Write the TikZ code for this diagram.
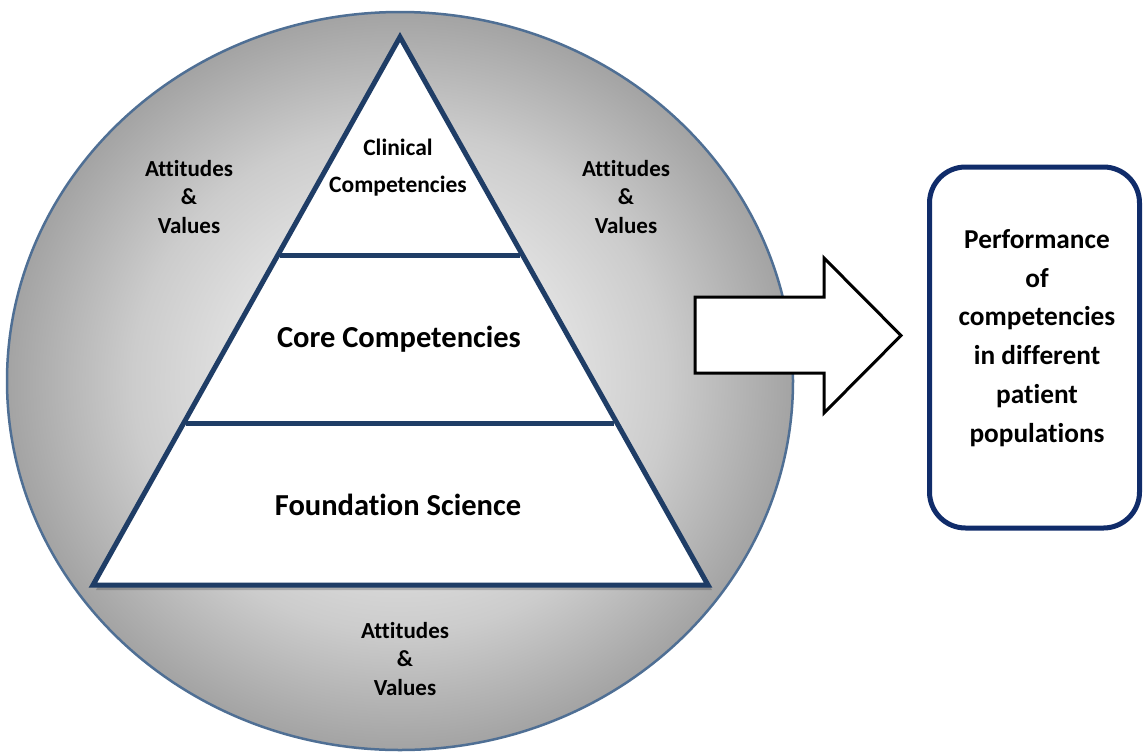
\documentclass[tikz,border=0pt]{standalone}
\usepackage{fontspec}
\setmainfont{Carlito}[Ligatures={NoCommon,NoContextual,NoRare},Contextuals={NoAlternate}]
\definecolor{pyr}{HTML}{1F3D66}
\definecolor{rim}{HTML}{4F6F94}
\definecolor{boxc}{HTML}{102C6A}
\pgfdeclareradialshading{ringshade}{\pgfpoint{0bp}{0bp}}{%
  color(0bp)=(black!4); color(9bp)=(black!10); color(17bp)=(black!20); color(25bp)=(black!36); color(50bp)=(black!36)}
\begin{document}
\begin{tikzpicture}[x=1pt,y=-1pt,
  lbl/.style={align=center, inner sep=0pt, text=black},
  small/.style={lbl, font=\bfseries\fontsize{23}{28.5}\selectfont},
  clin/.style={lbl, font=\bfseries\fontsize{23.5}{37}\selectfont},
  tier/.style={lbl, font=\bfseries\fontsize{30.5}{36}\selectfont},
  perf/.style={lbl, font=\bfseries\fontsize{27.3}{38.8}\selectfont},
  pyrline/.style={draw=pyr, line width=5pt, line join=miter}]
\useasboundingbox (0,0) rectangle (1143,753);
\fill[white] (0,0) rectangle (1143,753);
% circle with radial shading
\shade[shading=ringshade] (400,381) ellipse [x radius=393pt, y radius=369pt];
\draw[rim, line width=2.5pt] (400,381) ellipse [x radius=393pt, y radius=369pt];
% pyramid shadow
\fill[black, opacity=0.18] (402,41) -- (712,590) -- (96,590) -- cycle;
% pyramid
\coordinate (apex) at (400,37);
\coordinate (bl) at (93,585);
\coordinate (br) at (708,585);
\filldraw[fill=white, pyrline] (apex) -- (br) -- (bl) -- cycle;
\draw[pyrline] (280,255) -- (520,255);
\draw[pyrline] (186,423) -- (614,423);
% labels
\node[clin] (clinical) at (398,168) {Clinical\\Competencies};
\node[tier] (core) at (399,339) {Core Competencies};
\node[tier] (found) at (398,505) {Foundation Science};
\node[small] (avl) at (189,197) {Attitudes\\\&\\Values};
\node[small] (avr) at (626,197) {Attitudes\\\&\\Values};
\node[small] (avb) at (405,659) {Attitudes\\\&\\Values};
% block arrow
\draw[black, fill=white, line width=3pt, line join=miter]
  (695,297) -- (824,297) -- (824,258) -- (901,335.5) -- (824,413) -- (824,373) -- (695,373) -- cycle;
% outcome box
\node[draw=boxc, line width=5pt, rounded corners=36pt, minimum width=210pt, minimum height=361pt, inner sep=0pt, fill=white] (box) at (1034.5,347.5) {};
\node[perf] (perftext) at (1037,338) {Performance\\of\\competencies\\in different\\patient\\populations};
\end{tikzpicture}
\end{document}
